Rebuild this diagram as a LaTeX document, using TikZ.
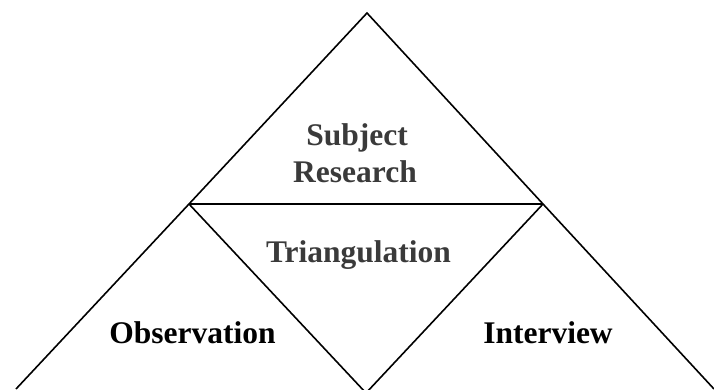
\documentclass[tikz,border=0pt]{standalone}
\usepackage{fontspec}
\setmainfont{Liberation Serif}
\definecolor{txtgray}{HTML}{3A3A3A}
\begin{document}
\begin{tikzpicture}[x=1pt,y=1pt,
  edge/.style={line width=1.6pt, black, line join=miter},
  lbl/.style={anchor=base, inner sep=0pt, font=\fontsize{31.5}{37}\selectfont\bfseries},
  graylbl/.style={lbl, text=txtgray}]
\useasboundingbox (0,0) rectangle (714,389);
\clip (0,0) rectangle (714,389);
\coordinate (apex) at (367,376);
\coordinate (lj) at (189,185);
\coordinate (rj) at (543,185);
\coordinate (lb) at (16,0);
\coordinate (rb) at (714,0);
\coordinate (bv) at (366,-4);
\draw[edge] (lb) -- (lj) -- (apex) -- (rj) -- (rb);
\draw[edge, line width=2pt] (lj) -- (rj);
\draw[edge] (lj) -- (bv) -- (rj);
\node[graylbl] (subj) at (357,244) {Subject};
\node[graylbl] (res) at (355,207) {Research};
\node[graylbl] (tri) at (358.5,127) {Triangulation};
\node[lbl] (obs) at (192.5,46) {Observation};
\node[lbl] (int) at (548,46) {Interview};
\end{tikzpicture}
\end{document}
